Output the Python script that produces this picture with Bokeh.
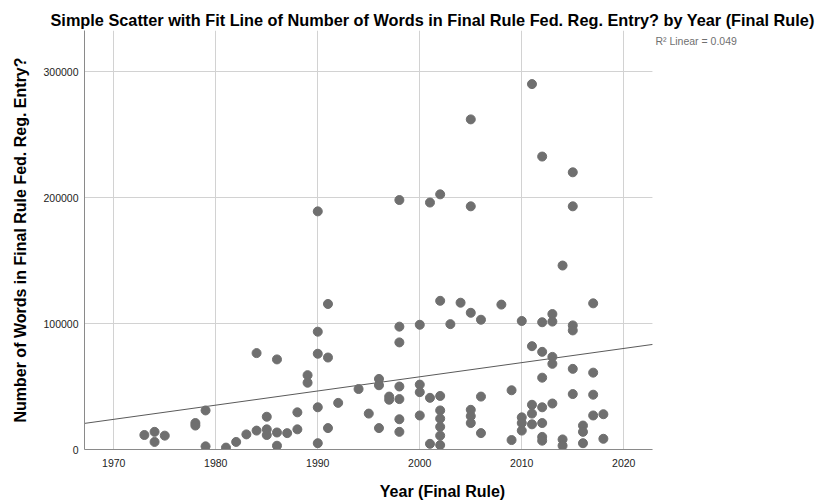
from bokeh.plotting import figure
from bokeh.models import Range1d, Label, FixedTicker, BasicTickFormatter
from bokeh.embed import file_html
from bokeh.resources import INLINE

# ---- data ----
years = [1973, 1974, 1974, 1975, 1978, 1978, 1979, 1979, 1981, 1982, 1983,
         1984, 1984, 1985, 1985, 1985, 1986, 1986, 1986, 1987, 1988, 1988,
         1989, 1989, 1990, 1990, 1990, 1990, 1990, 1991, 1991, 1991, 1992,
         1994, 1995, 1996, 1996, 1996, 1997, 1997,
         1998, 1998, 1998, 1998, 1998, 1998, 1998,
         2000, 2000, 2000, 2000, 2001, 2001, 2001,
         2002, 2002, 2002, 2002, 2002, 2002, 2002, 2002,
         2003, 2004, 2005, 2005, 2005, 2005, 2005, 2005,
         2006, 2006, 2006, 2008, 2009, 2009,
         2010, 2010, 2010, 2010,
         2011, 2011, 2011, 2011, 2011,
         2012, 2012, 2012, 2012, 2012, 2012, 2012, 2012,
         2013, 2013, 2013, 2013, 2013,
         2014, 2014, 2014,
         2015, 2015, 2015, 2015, 2015, 2015,
         2016, 2016, 2016,
         2017, 2017, 2017, 2017,
         2018, 2018]
words = [11500, 14000, 6000, 11000, 21000, 19000, 31000, 2500, 1500, 6000, 12000,
         76500, 15000, 26000, 16000, 11500, 71500, 13500, 3000, 13000, 29500, 16000,
         59000, 53000, 189000, 93500, 76000, 33500, 5000, 115500, 73000, 17000, 37000,
         48000, 28500, 56000, 51000, 17000, 42000, 39500,
         198000, 97500, 85000, 50000, 40000, 24000, 14000,
         99000, 51500, 45500, 27000, 196000, 41000, 4500,
         202500, 118000, 42500, 31000, 24500, 18000, 11000, 3500,
         99500, 116500, 262000, 193000, 108500, 31500, 26500, 21000,
         103000, 42000, 13000, 115000, 47000, 7500,
         102000, 25500, 21000, 15000,
         290000, 82000, 35500, 28500, 20000,
         232500, 101000, 77500, 57000, 33500, 21000, 10000, 7000,
         107500, 101500, 73500, 68000, 36500,
         146000, 8000, 3000,
         220000, 193000, 98500, 94500, 64000, 44000,
         19000, 14000, 5000,
         116000, 61000, 43500, 27000,
         28000, 8500]

x_ticks = [1970, 1980, 1990, 2000, 2010, 2020]
y_ticks = [0, 100000, 200000, 300000]
x_start, x_end = 1967.13, 2022.81     # extent of the chart's axes
y_start, y_end = 0, 332540

# linear fit line as drawn in the reference (value at 2000 and slope per year)
fit_at_2000 = 57700
fit_slope = 1125
r2_text = "R\u00b2 Linear = 0.049"

title = ("Simple Scatter with Fit Line of Number of Words in Final Rule "
         "Fed. Reg. Entry? by Year (Final Rule)")
x_label = "Year (Final Rule)"
y_label = "Number of Words in Final Rule Fed. Reg. Entry?"

FONT = "Liberation Sans"

# frame: page x 84..800 (the plotted axes end at x_end, extra room holds the R² note)
PX_PER_YEAR = 10.2
frame_left, frame_right = 84, 800
view_end = x_start + (frame_right - frame_left) / PX_PER_YEAR

p = figure(width=817, height=503, output_backend="svg", toolbar_location=None,
           x_range=Range1d(x_start, view_end), y_range=Range1d(y_start, y_end),
           min_border_left=frame_left, min_border_right=817 - frame_right,
           min_border_top=30, min_border_bottom=54)
p.outline_line_color = None
p.background_fill_color = "white"
p.border_fill_color = "white"

p.title.text = title
p.title.text_font = FONT
p.title.text_font_size = "16.3px"
p.title.text_font_style = "bold"
p.title.text_color = "#000000"
p.title.align = "left"
p.title.offset = -34
p.title.standoff = 4

p.xaxis.ticker = FixedTicker(ticks=x_ticks)
p.yaxis.ticker = FixedTicker(ticks=y_ticks)
p.yaxis.formatter = BasicTickFormatter(use_scientific=False)
p.xaxis.bounds = (x_start, x_end)
p.xaxis.axis_label = x_label
p.yaxis.axis_label = y_label
for ax in (p.xaxis, p.yaxis):
    ax.axis_label_text_font = FONT
    ax.axis_label_text_font_size = "16px"
    ax.axis_label_text_font_style = "bold"
    ax.axis_label_text_color = "#000000"
    ax.major_label_text_font = FONT
    ax.major_label_text_font_size = "10.5px"
    ax.major_label_text_color = "#222222"
    ax.major_tick_in = 0
    ax.major_tick_out = 0
    ax.minor_tick_in = 0
    ax.minor_tick_out = 0
    ax.axis_line_color = "#8a8a8a"
    ax.axis_line_width = 1
p.xaxis.major_label_standoff = 9
p.yaxis.major_label_standoff = 6
p.xaxis.axis_label_standoff = 13
p.yaxis.axis_label_standoff = 11

# vertical grid lines from the x axis; horizontal ones only across the axes' extent
p.xgrid.grid_line_color = "#d2d2d2"
p.xgrid.grid_line_width = 1
p.ygrid.visible = False
p.segment(x0=[x_start] * len(y_ticks), x1=[x_end] * len(y_ticks),
          y0=y_ticks, y1=y_ticks, line_color="#d2d2d2", line_width=1,
          level="underlay")

# fit line
fit_x = [x_start, x_end]
fit_y = [fit_at_2000 + fit_slope * (xv - 2000) for xv in fit_x]
p.line(fit_x, fit_y, line_color="#5a5a5a", line_width=1)

p.scatter(years, words, size=9, fill_color="#6f6f6f", line_color="#6f6f6f")

p.add_layout(Label(x=x_end, y=y_end, x_offset=3, y_offset=-4, text=r2_text,
                   text_font=FONT, text_font_size="10.5px", text_color="#707070",
                   text_baseline="top", text_align="left"))

open("out.html", "w").write(file_html(p, INLINE))
